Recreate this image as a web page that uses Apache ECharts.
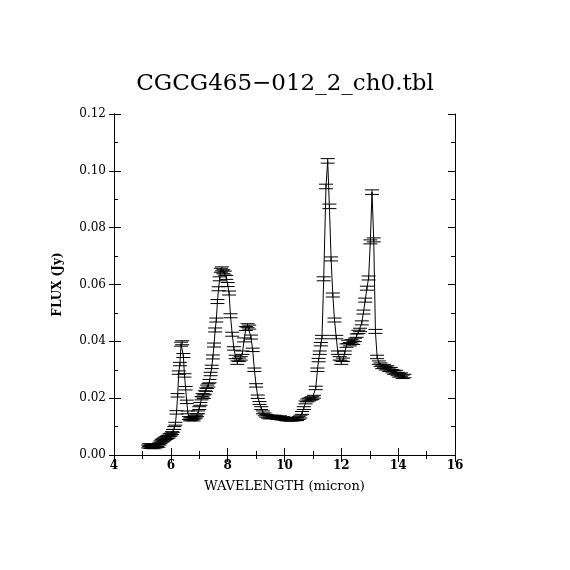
<!DOCTYPE html>
<html>
<head>
<meta charset="utf-8">
<script src="https://cdn.jsdelivr.net/npm/echarts@6/dist/echarts.min.js"></script>
<style>html,body{margin:0;padding:0;background:#fff}#c{width:570px;height:570px}</style>
</head>
<body>
<div id="c"></div>
<script>
const TITLE = 'CGCG465\u2212012_2_ch0.tbl';
const X_NAME = 'WAVELENGTH (micron)';
const Y_NAME = 'FLUX (Jy)';
const WAVE = [
5.20,5.24,5.28,5.32,5.36,5.40,5.44,5.48,5.52,5.56,5.60,5.64,5.68,5.72,5.76,5.80,5.84,5.88,5.92,5.96,
6.00,6.04,6.08,6.12,6.16,6.20,6.24,6.28,6.32,6.36,6.40,6.44,6.48,6.52,6.56,6.60,6.64,6.68,6.72,6.76,
6.80,6.84,6.88,6.92,6.96,7.00,7.04,7.08,7.12,7.16,7.20,7.24,7.28,7.32,7.36,7.40,7.44,7.48,7.52,7.56,
7.60,7.64,7.68,7.72,7.76,7.80,7.85,7.90,7.95,8.00,8.05,8.10,8.16,8.22,8.28,8.34,8.40,8.46,8.52,8.58,
8.64,8.70,8.76,8.82,8.88,8.94,9.00,9.06,9.12,9.18,9.24,9.30,9.36,9.42,9.48,9.54,9.60,9.66,9.72,9.78,
9.84,9.90,9.96,10.02,10.08,10.14,10.20,10.26,10.32,10.38,10.44,10.50,10.56,10.62,10.68,10.74,10.80,10.86,10.92,10.98,
11.04,11.10,11.16,11.20,11.24,11.28,11.32,11.38,11.46,11.52,11.58,11.64,11.70,11.76,11.82,11.88,11.94,12.00,12.06,12.12,
12.18,12.24,12.30,12.36,12.42,12.48,12.54,12.60,12.66,12.72,12.78,12.84,12.90,12.96,13.02,13.08,13.14,13.20,13.26,13.32,
13.38,13.44,13.50,13.56,13.62,13.68,13.74,13.80,13.86,13.92,13.98,14.04,14.10,14.16,14.22
];
const FLUX = [
0.0030,0.0035,0.0028,0.0032,0.0030,0.0027,0.0033,0.0030,0.0035,0.0032,0.0040,0.0045,0.0050,0.0052,0.0055,0.0058,0.0060,0.0063,0.0065,0.0070,
0.0072,0.0077,0.0085,0.0095,0.0110,0.0150,0.0210,0.0290,0.0320,0.0390,0.0395,0.0350,0.0280,0.0235,0.0187,0.0150,0.0130,0.0125,0.0128,0.0130,
0.0125,0.0132,0.0135,0.0140,0.0150,0.0165,0.0180,0.0200,0.0210,0.0205,0.0220,0.0230,0.0240,0.0245,0.0260,0.0285,0.0310,0.0345,0.0387,0.0440,
0.0475,0.0540,0.0585,0.0620,0.0650,0.0655,0.0645,0.0640,0.0625,0.0600,0.0570,0.0490,0.0425,0.0375,0.0345,0.0325,0.0335,0.0340,0.0360,0.0405,
0.0445,0.0455,0.0450,0.0415,0.0370,0.0300,0.0245,0.0205,0.0183,0.0165,0.0150,0.0143,0.0138,0.0135,0.0132,0.0135,0.0133,0.0135,0.0132,0.0130,
0.0133,0.0128,0.0130,0.0127,0.0125,0.0127,0.0124,0.0126,0.0125,0.0127,0.0126,0.0130,0.0135,0.0148,0.0165,0.0185,0.0192,0.0195,0.0198,0.0200,
0.0205,0.0236,0.0300,0.0334,0.0360,0.0390,0.0415,0.0620,0.0945,0.1035,0.0875,0.0690,0.0563,0.0475,0.0415,0.0360,0.0340,0.0325,0.0335,0.0360,
0.0385,0.0398,0.0390,0.0400,0.0395,0.0405,0.0420,0.0433,0.0440,0.0465,0.0503,0.0545,0.0587,0.0623,0.0750,0.0925,0.0757,0.0435,0.0345,0.0325,
0.0318,0.0310,0.0313,0.0305,0.0308,0.0300,0.0302,0.0295,0.0290,0.0292,0.0285,0.0280,0.0283,0.0275,0.0278
];
const ERR = [
0.0005,0.0005,0.0005,0.0005,0.0005,0.0005,0.0005,0.0005,0.0005,0.0005,0.0005,0.0005,0.0005,0.0005,0.0005,0.0005,0.0005,0.0005,0.0005,0.0005,
0.0005,0.0005,0.0005,0.0005,0.0005,0.0006,0.0006,0.0006,0.0006,0.0007,0.0007,0.0007,0.0006,0.0006,0.0006,0.0005,0.0005,0.0005,0.0005,0.0005,
0.0005,0.0005,0.0005,0.0005,0.0005,0.0005,0.0005,0.0006,0.0006,0.0006,0.0006,0.0006,0.0006,0.0006,0.0006,0.0006,0.0006,0.0007,0.0007,0.0007,
0.0007,0.0007,0.0007,0.0007,0.0007,0.0007,0.0007,0.0007,0.0007,0.0007,0.0007,0.0007,0.0007,0.0006,0.0006,0.0006,0.0006,0.0006,0.0006,0.0007,
0.0007,0.0007,0.0007,0.0007,0.0006,0.0006,0.0006,0.0006,0.0005,0.0005,0.0005,0.0005,0.0005,0.0005,0.0005,0.0005,0.0005,0.0005,0.0005,0.0005,
0.0005,0.0005,0.0005,0.0005,0.0005,0.0005,0.0005,0.0005,0.0005,0.0005,0.0005,0.0005,0.0005,0.0005,0.0005,0.0005,0.0005,0.0005,0.0005,0.0005,
0.0005,0.0006,0.0006,0.0006,0.0006,0.0006,0.0006,0.0007,0.0008,0.0008,0.0008,0.0007,0.0007,0.0007,0.0006,0.0006,0.0006,0.0006,0.0006,0.0006,
0.0006,0.0006,0.0006,0.0006,0.0006,0.0006,0.0006,0.0006,0.0006,0.0007,0.0007,0.0007,0.0007,0.0007,0.0007,0.0008,0.0007,0.0007,0.0006,0.0006,
0.0006,0.0006,0.0006,0.0006,0.0006,0.0006,0.0006,0.0006,0.0006,0.0006,0.0006,0.0006,0.0006,0.0006,0.0006
];

const FONT = 'DejaVu Serif';
const pts = WAVE.map((w, i) => [w, FLUX[i]]);
const bars = WAVE.map((w, i) => [w, FLUX[i], ERR[i]]);

const chart = echarts.init(document.getElementById('c'), null, {renderer: 'canvas'});
const baseX = {
  type: 'value', min: 4, max: 16, interval: 2, gridIndex: 0,
  axisLine: {show: true, lineStyle: {color: '#000', width: 1}},
  splitLine: {show: false}
};
const baseY = {
  type: 'value', min: 0, max: 0.12, interval: 0.02, gridIndex: 0,
  axisLine: {show: true, lineStyle: {color: '#000', width: 1}},
  splitLine: {show: false}
};
chart.setOption({
  animation: false,
  backgroundColor: '#fff',
  title: {
    text: TITLE, left: 'center', top: 68,
    textStyle: {fontFamily: FONT, fontSize: 23, fontWeight: 'normal', color: '#000'}
  },
  grid: {left: 114, top: 114, width: 341, height: 341, show: false, containLabel: false},
  xAxis: [
    Object.assign({}, baseX, {
      position: 'bottom',
      name: X_NAME, nameLocation: 'middle', nameGap: 25,
      nameTextStyle: {fontFamily: FONT, fontSize: 13, color: '#000'},
      axisTick: {show: true, inside: true, length: 7, lineStyle: {color: '#000'}},
      minorTick: {show: true, splitNumber: 2, length: 4, lineStyle: {color: '#000'}},
      axisLabel: {show: true, margin: 5, fontFamily: FONT, fontSize: 12, fontWeight: 'bold', color: '#000'}
    }),
    Object.assign({}, baseX, {
      position: 'top',
      axisTick: {show: true, inside: true, length: 7, lineStyle: {color: '#000'}},
      minorTick: {show: true, splitNumber: 2, length: 4, lineStyle: {color: '#000'}},
      axisLabel: {show: false}
    })
  ],
  yAxis: [
    Object.assign({}, baseY, {
      position: 'left',
      name: Y_NAME, nameLocation: 'middle', nameGap: 50, nameRotate: 90,
      nameTextStyle: {fontFamily: FONT, fontSize: 12, fontWeight: 'bold', color: '#000'},
      axisTick: {show: true, inside: false, length: 5, lineStyle: {color: '#000'}},
      minorTick: {show: false},
      axisLabel: {show: true, margin: 8, fontFamily: FONT, fontSize: 12, color: '#000',
        formatter: v => v.toFixed(2)}
    }),
    Object.assign({}, baseY, {
      position: 'left',
      axisTick: {show: true, inside: true, length: 7, lineStyle: {color: '#000'}},
      minorTick: {show: true, splitNumber: 2, length: 4, lineStyle: {color: '#000'}},
      axisLabel: {show: false}
    }),
    Object.assign({}, baseY, {
      position: 'right',
      axisTick: {show: true, inside: true, length: 7, lineStyle: {color: '#000'}},
      minorTick: {show: true, splitNumber: 2, length: 4, lineStyle: {color: '#000'}},
      axisLabel: {show: false}
    })
  ],
  series: [
    {
      type: 'line', xAxisIndex: 0, yAxisIndex: 0, data: pts,
      showSymbol: false, symbol: 'none',
      lineStyle: {color: '#000', width: 1}, z: 2
    },
    {
      type: 'custom', xAxisIndex: 0, yAxisIndex: 0, data: bars,
      renderItem: function (params, api) {
        const x = api.value(0), y = api.value(1), e = api.value(2);
        const hi = api.coord([x, y + e]);
        const lo = api.coord([x, y - e]);
        const hw = 7;
        const st = {stroke: '#000', lineWidth: 1};
        return {
          type: 'group',
          children: [
            {type: 'line', shape: {x1: hi[0], y1: hi[1], x2: lo[0], y2: lo[1]}, style: st},
            {type: 'line', shape: {x1: hi[0] - hw, y1: hi[1], x2: hi[0] + hw, y2: hi[1]}, style: st},
            {type: 'line', shape: {x1: lo[0] - hw, y1: lo[1], x2: lo[0] + hw, y2: lo[1]}, style: st}
          ]
        };
      },
      z: 3
    }
  ]
});
</script>
</body>
</html>
